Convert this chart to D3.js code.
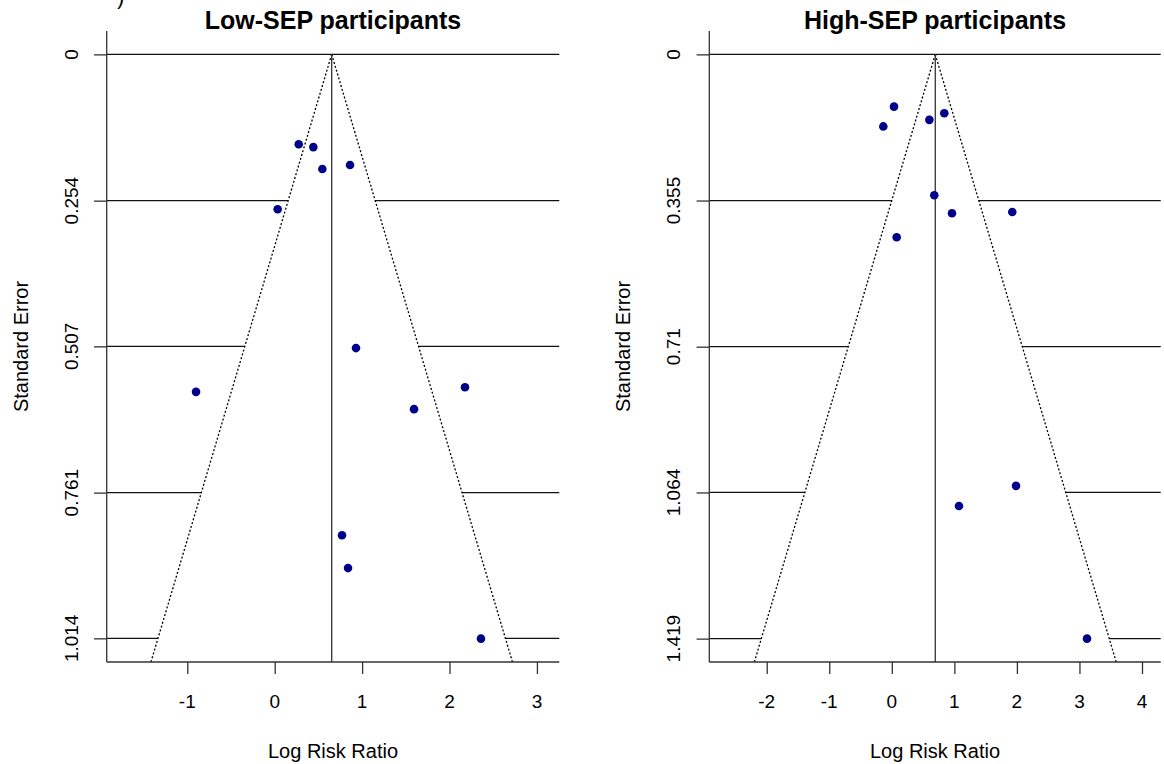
<!DOCTYPE html>
<html>
<head>
<meta charset="utf-8">
<script src="https://cdn.jsdelivr.net/npm/d3@7"></script>
<style>
  html, body { margin: 0; padding: 0; background: #fff; }
  svg text { font-family: "Liberation Sans", Arial, sans-serif; fill: #000; }
</style>
</head>
<body>
<svg id="chart" width="1164" height="764"></svg>
<script>
// Low-SEP studies: log risk ratio and standard error
const lowLogRR = [0.275, 0.442, 0.545, 0.862, 0.034, 0.930, -0.900, 2.177, 1.594, 0.770, 0.839, 2.360];
const lowSE    = [0.156, 0.161, 0.199, 0.192, 0.269, 0.510, 0.586, 0.578, 0.616, 0.835, 0.892, 1.0145];
const lowEstimate = 0.652;
const lowYTicks = [0, 0.254, 0.507, 0.761, 1.014];
const lowXTicks = [-1, 0, 1, 2, 3];

// High-SEP studies
const highLogRR = [0.035, -0.136, 0.600, 0.839, 0.679, 0.962, 1.926, 0.078, 1.986, 1.074, 3.121];
const highSE    = [0.127, 0.175, 0.159, 0.143, 0.342, 0.386, 0.383, 0.444, 1.048, 1.097, 1.419];
const highEstimate = 0.695;
const highYTicks = [0, 0.355, 0.71, 1.064, 1.419];
const highXTicks = [-2, -1, 0, 1, 2, 3, 4];

const panels = [
  { title: "Low-SEP participants", x: lowLogRR, se: lowSE, est: lowEstimate,
    yTicks: lowYTicks, xTicks: lowXTicks, seMax: 1.0145,
    xDomain: [-1.922, 3.256], left: 106.7, right: 559.3, yLabelX: 78, yTitleX: 28 },
  { title: "High-SEP participants", x: highLogRR, se: highSE, est: highEstimate,
    yTicks: highYTicks, xTicks: highXTicks, seMax: 1.419,
    xDomain: [-2.918, 4.299], left: 709.3, right: 1160.7, yLabelX: 680, yTitleX: 630 }
];

const svg = d3.select("#chart");
svg.append("rect").attr("width", 1164).attr("height", 764).attr("fill", "#fff");

// tail of the panel letter running off the top edge
svg.append("text").attr("x", 117).attr("y", 4)
  .style("font-size", "22px").text(")");

const plotTop = 31, plotBottom = 662;

panels.forEach(p => {
  const x = d3.scaleLinear().domain(p.xDomain).range([p.left, p.right]);
  const y = d3.scaleLinear().domain([-0.04 * p.seMax, 1.04 * p.seMax]).range([plotTop, plotBottom]);
  const g = svg.append("g");
  const seBottom = y.invert(plotBottom);

  // horizontal reference lines at the SE ticks
  g.selectAll("line.h").data(p.yTicks).join("line")
    .attr("x1", p.left).attr("x2", p.right)
    .attr("y1", d => y(d)).attr("y2", d => y(d))
    .attr("stroke", "#111").attr("stroke-width", 1.3);

  // pseudo-confidence region (white) covering the lines
  const funnel = [[p.est, 0], [p.est - 1.96 * seBottom, seBottom], [p.est + 1.96 * seBottom, seBottom]];
  g.append("path")
    .attr("d", d3.line().x(d => x(d[0])).y(d => y(d[1]))(funnel) + "Z")
    .attr("fill", "#fff").attr("stroke", "none");

  // funnel boundaries
  [-1, 1].forEach(s => {
    g.append("line")
      .attr("x1", x(p.est)).attr("y1", y(0))
      .attr("x2", x(p.est + s * 1.96 * seBottom)).attr("y2", y(seBottom))
      .attr("stroke", "#000").attr("stroke-width", 1.3).attr("stroke-dasharray", "2,2");
  });

  // summary estimate
  g.append("line")
    .attr("x1", x(p.est)).attr("x2", x(p.est))
    .attr("y1", y(0)).attr("y2", plotBottom)
    .attr("stroke", "#333").attr("stroke-width", 1.3);

  // study points
  g.selectAll("circle").data(p.x.map((v, i) => [v, p.se[i]])).join("circle")
    .attr("cx", d => x(d[0])).attr("cy", d => y(d[1])).attr("r", 4.3)
    .attr("fill", "#00008B");

  // axes
  const yAxis = d3.axisLeft(y).tickValues(p.yTicks).tickSize(12.7).tickFormat(d => String(d));
  const ya = g.append("g").attr("transform", `translate(${p.left},0)`).call(yAxis);
  ya.select(".domain").attr("d", `M0,${plotTop}V${plotBottom}`);
  ya.selectAll("path, line").attr("stroke", "#333").attr("stroke-width", 1.3);
  ya.selectAll("text").remove();
  g.selectAll("text.ytick").data(p.yTicks).join("text")
    .attr("class", "ytick")
    .attr("transform", d => `translate(${p.yLabelX},${y(d)}) rotate(-90)`)
    .attr("text-anchor", "middle")
    .style("font-size", "19px")
    .text(d => String(d));

  const xAxis = d3.axisBottom(x).tickValues(p.xTicks).tickSize(12).tickFormat(d3.format("d"));
  const xa = g.append("g").attr("transform", `translate(0,${plotBottom})`).call(xAxis);
  xa.select(".domain").attr("d", `M${p.left},0H${p.right}`);
  xa.selectAll("path, line").attr("stroke", "#333").attr("stroke-width", 1.3);
  xa.selectAll("text").remove();
  g.selectAll("text.xtick").data(p.xTicks).join("text")
    .attr("class", "xtick")
    .attr("x", d => x(d)).attr("y", 708)
    .attr("text-anchor", "middle")
    .style("font-size", "19px")
    .text(d => d < 0 ? "-" + Math.abs(d) : String(d));

  const mid = (p.left + p.right) / 2;
  g.append("text").attr("x", mid).attr("y", 758)
    .attr("text-anchor", "middle").style("font-size", "20px").text("Log Risk Ratio");
  g.append("text")
    .attr("transform", `translate(${p.yTitleX},${(plotTop + plotBottom) / 2}) rotate(-90)`)
    .attr("text-anchor", "middle").style("font-size", "20px").text("Standard Error");
  g.append("text").attr("x", mid).attr("y", 28.5)
    .attr("text-anchor", "middle").style("font-size", "25px").style("font-weight", "bold")
    .text(p.title);
});
</script>
</body>
</html>
